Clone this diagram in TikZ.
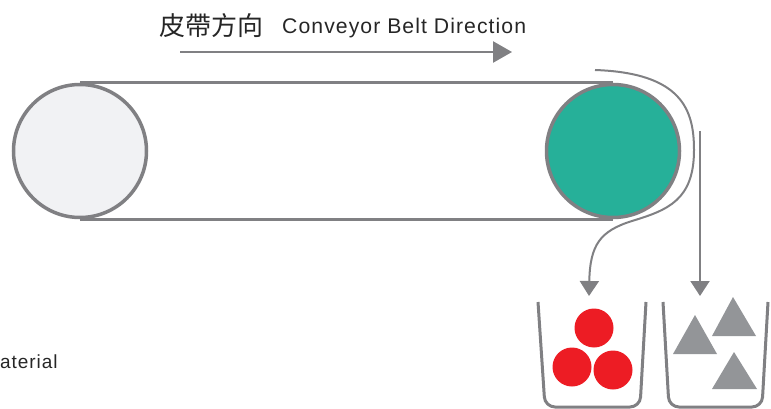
\documentclass[tikz,border=0pt]{standalone}
\usepackage{fontspec}
\setmainfont{Liberation Sans}
\newfontfamily\cjk{Noto Sans CJK TC}
\usetikzlibrary{positioning}
\usetikzlibrary{arrows.meta}
\definecolor{beltgray}{RGB}{128,128,131}
\definecolor{shapegray}{RGB}{147,149,152}
\definecolor{pulleyteal}{RGB}{38,176,153}
\definecolor{pulleylight}{RGB}{241,242,244}
\definecolor{ballred}{RGB}{237,28,36}
\tikzset{
    pulley/.style = {circle, line width=3.5pt, draw=beltgray, minimum size=133pt, inner sep=0pt, fill=pulleylight},
    pulleyt/.style = {pulley, fill=pulleyteal},
    belt/.style = {-, line width=3pt, beltgray},
    flow/.style = {line width=2pt, beltgray, -{Triangle[length=15pt,width=19pt]}},
    dirarrow/.style = {line width=2.5pt, beltgray, -{Triangle[length=19pt,width=21pt]}},
    bin/.style = {line width=3pt, beltgray, rounded corners=10pt},
    ball/.style = {circle, fill=ballred, minimum size=39pt, inner sep=0pt},
    lump/.style = {fill=shapegray},
    label/.style = {inner sep=0pt, anchor=west, text=black!85}
}

\begin{document}
\begin{tikzpicture}[x=1pt, y=-1pt]
  \useasboundingbox (0,0) rectangle (771,409);
  % title and direction
  \node[label, font=\cjk\fontsize{26}{26}\selectfont] (titlecn) at (159,26) {皮帶方向};
  \node[label, font=\fontsize{21.2}{21.2}\selectfont\addfontfeature{LetterSpace=5}] (titleen) at (282,28) {Conveyor Belt Direction};
  \coordinate (dirstart) at (180,52);
  \coordinate (dirend) at (512,52);
  \draw[dirarrow] (dirstart) -- (dirend);
  % belt and pulleys
  \node[pulley] (leftpulley) at (80,151) {};
  \node[pulleyt] (rightpulley) at (613,151) {};
  \draw[belt] (leftpulley.north) -- (rightpulley.north);
  \draw[belt] (leftpulley.south) -- (rightpulley.south);
  % material paths
  \coordinate (wrapstart) at (595,70);
  \coordinate (wrapend) at (589,296);
  \draw[flow] (wrapstart) .. controls (682,73) and (694,110) .. (694,150)
    .. controls (694,200) and (668,210) .. (632,221)
    .. controls (600,231) and (590,245) .. (wrapend);
  \coordinate (dropstart) at (700,131);
  \coordinate (dropend) at (700,296);
  \draw[flow] (dropstart) -- (dropend);
  % bins
  \draw[bin] (538,302) -- (545,407) -- (640,407) -- (646,302);
  \draw[bin] (663,302) -- (669,407) -- (762,407) -- (768,302);
  \node[ball] (balltop) at (594,328) {};
  \node[ball] (ballleft) at (572,367) {};
  \node[ball] (ballright) at (613,370) {};
  \fill[lump] (695,315) -- (717,354) -- (673,354) -- cycle;
  \fill[lump] (733,297) -- (756,336) -- (712,336) -- cycle;
  \fill[lump] (734,352) -- (757,389) -- (712,389) -- cycle;
  % cut-off label
  \node[label, font=\fontsize{19}{19}\selectfont\addfontfeature{LetterSpace=5}] (matlabel) at (0,362) {aterial};
\end{tikzpicture}
\end{document}
